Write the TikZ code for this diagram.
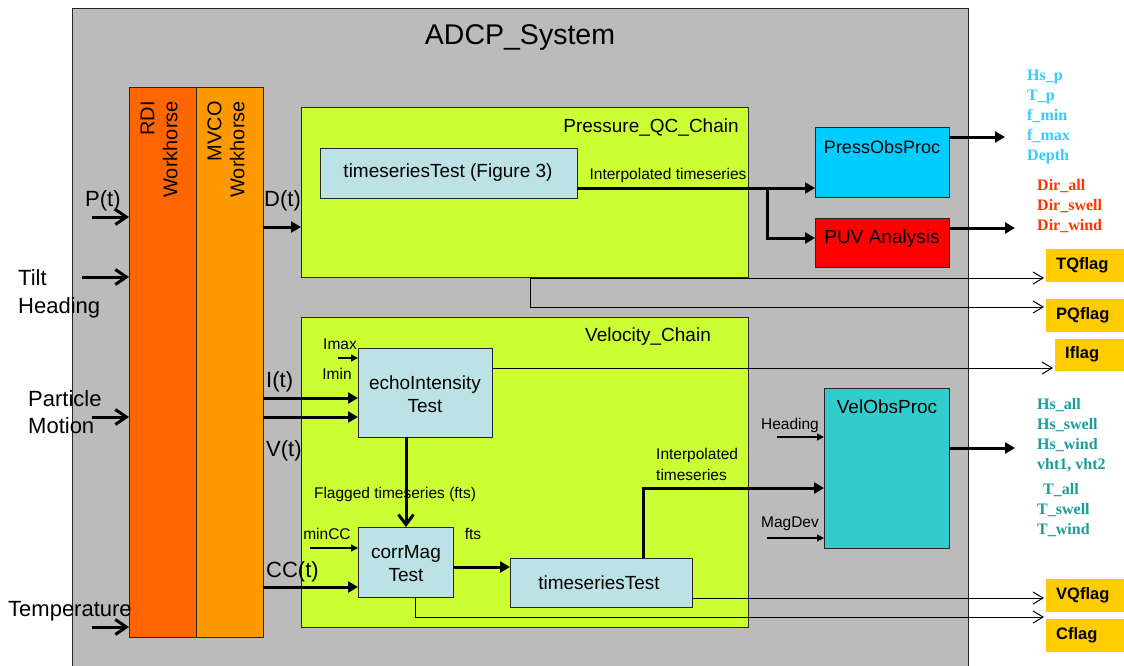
\documentclass[tikz,border=0pt]{standalone}
\usepackage{fontspec}
\setmainfont{Liberation Sans}
\newfontfamily\outserif{Liberation Serif}
\usetikzlibrary{arrows.meta}

\definecolor{sysgrey}{HTML}{BBBBBB}
\definecolor{rdiorange}{HTML}{FF6600}
\definecolor{mvcoorange}{HTML}{FF9900}
\definecolor{chaingreen}{HTML}{CCFF33}
\definecolor{testblue}{HTML}{BDE2E6}
\definecolor{pressblue}{HTML}{00CCFF}
\definecolor{puvred}{HTML}{FF0000}
\definecolor{velteal}{HTML}{33CCCC}
\definecolor{flagyellow}{HTML}{FFCC00}
\definecolor{outblue}{HTML}{33CCFF}
\definecolor{outred}{HTML}{FF3300}
\definecolor{outteal}{HTML}{199C9C}

\begin{document}
\begin{tikzpicture}[x=1pt,y=-1pt,
  box/.style={draw=black!85, line width=0.9pt, inner sep=0pt, outer sep=0pt, rectangle, anchor=north west},
  flagbox/.style={fill=flagyellow, inner sep=0pt, outer sep=2pt, rectangle, anchor=north west},
  titlefont/.style={font=\fontsize{28.5}{33}\selectfont},
  bigfont/.style={font=\fontsize{22}{27}\selectfont},
  boxfont/.style={font=\fontsize{19}{23}\selectfont},
  rotfont/.style={font=\fontsize{20}{23}\selectfont},
  smallfont/.style={font=\fontsize{15.5}{21}\selectfont},
  flagfont/.style={font=\bfseries\fontsize{16.5}{19}\selectfont, anchor=west, inner sep=0pt},
  outfont/.style={font=\outserif\bfseries\fontsize{16}{20}\selectfont, anchor=base west, inner sep=0pt},
  lbl/.style={inner sep=0pt},
  fat/.style={line width=3pt, -{Triangle[length=10pt,width=11pt]}},
  fatbarb/.style={line width=3pt, -{Straight Barb[length=10pt,width=15pt]}},
  inbarb/.style={line width=3pt, -{Straight Barb[length=11pt,width=15pt]}},
  flagline/.style={line width=1pt, -{Straight Barb[length=10pt,width=12pt]}},
  small/.style={line width=1.2pt, -{Triangle[length=7pt,width=7pt]}}
]
\clip (0,0) rectangle (1124,665);
\fill[white] (0,0) rectangle (1124,665);

% system frame and instrument columns
\node[box, fill=sysgrey, minimum width=896, minimum height=700] (sys) at (72,8) {};
\node[titlefont, lbl, anchor=base] (title) at (520,44) {ADCP\_System};
\node[box, fill=rdiorange, minimum width=67, minimum height=550] (rdi) at (129,87) {};
\node[box, fill=mvcoorange, minimum width=67, minimum height=550] (mvco) at (196,87) {};
\node[rotfont, lbl, rotate=90, anchor=east, align=right] (rdilab) at (159,101) {RDI\\Workhorse};
\node[rotfont, lbl, rotate=90, anchor=east, align=right] (mvcolab) at (226,101) {MVCO\\Workhorse};

% processing chains
\node[box, fill=chaingreen, minimum width=447, minimum height=170] (pqc) at (301,107) {};
\node[box, fill=chaingreen, minimum width=447, minimum height=310] (vc) at (301,317) {};
\node[boxfont, lbl] (pqclab) at (651,127) {Pressure\_QC\_Chain};
\node[boxfont, lbl] (vclab) at (648,337) {Velocity\_Chain};

% processing blocks
\node[box, fill=testblue, minimum width=257, minimum height=50] (ts1) at (320,148) {};
\node[boxfont, lbl] (ts1lab) at (448,173) {timeseriesTest (Figure 3)};
\node[box, fill=pressblue, minimum width=134, minimum height=70] (pop) at (815,127) {};
\node[lbl, font=\fontsize{18}{22}\selectfont] (poplab) at (882,147) {PressObsProc};
\node[box, fill=puvred, minimum width=134, minimum height=49] (puv) at (815,218) {};
\node[boxfont, lbl] (puvlab) at (882,239) {PUV Analysis};
\node[box, fill=testblue, minimum width=134, minimum height=89] (echo) at (358,348) {};
\node[boxfont, lbl, align=center] (echolab) at (425,394) {echoIntensity\\Test};
\node[box, fill=testblue, minimum width=95, minimum height=70] (corr) at (358,527) {};
\node[boxfont, lbl, align=center] (corrlab) at (406,564) {corrMag\\Test};
\node[box, fill=testblue, minimum width=182, minimum height=49] (ts2) at (510,558) {};
\node[boxfont, lbl] (ts2lab) at (599,583) {timeseriesTest};
\node[box, fill=velteal, minimum width=125, minimum height=160] (vop) at (824,388) {};
\node[boxfont, lbl] (voplab) at (887,407) {VelObsProc};

% flag outputs
\node[flagbox, minimum width=90, minimum height=33] (tq) at (1044,247) {};
\node[flagbox, minimum width=90, minimum height=33] (pq) at (1044,297) {};
\node[flagbox, minimum width=80, minimum height=32] (ifl) at (1053,337) {};
\node[flagbox, minimum width=90, minimum height=33] (vq) at (1044,577) {};
\node[flagbox, minimum width=90, minimum height=33] (cfl) at (1044,617) {};
\node[flagfont] (tqlab) at (1056,265) {TQflag};
\node[flagfont] (pqlab) at (1056,315) {PQflag};
\node[flagfont] (iflab) at (1065,354) {Iflag};
\node[flagfont] (vqlab) at (1056,595) {VQflag};
\node[flagfont] (cflab) at (1056,635) {Cflag};

% sensor inputs
\node[bigfont, lbl, anchor=base west] (plab) at (85,206) {P(t)};
\node[bigfont, lbl, anchor=base west] (tiltlab) at (18,285) {Tilt};
\node[bigfont, lbl, anchor=base west] (headlab) at (18,313) {Heading};
\node[bigfont, lbl, anchor=base west] (partlab) at (28,406) {Particle};
\node[bigfont, lbl, anchor=base west] (motlab) at (28,433) {Motion};
\node[bigfont, lbl, anchor=base west] (templab) at (8,616) {Temperature};
\coordinate (inP) at (92,217);
\coordinate (inT) at (82,277);
\coordinate (inM) at (92,417);
\coordinate (inTe) at (92,627);
\draw[inbarb] (inP) -- (inP -| rdi.west);
\draw[inbarb] (inT) -- (inT -| rdi.west);
\draw[inbarb] (inM) -- (inM -| rdi.west);
\draw[inbarb] (inTe) -- (inTe -| rdi.west);

% instrument outputs
\node[bigfont, lbl, anchor=base west] (dlab) at (264,206) {D(t)};
\node[bigfont, lbl, anchor=base west] (ilab) at (266,387) {I(t)};
\node[bigfont, lbl, anchor=base west] (vlab) at (266,456) {V(t)};
\node[bigfont, lbl, anchor=base west] (cclab) at (266,577) {CC(t)};
\coordinate (yD) at (0,227);
\coordinate (yIt) at (0,398);
\coordinate (yVt) at (0,417);
\coordinate (yCC) at (0,587);
\draw[fat] (mvco.east |- yD) -- (pqc.west |- yD);
\draw[fat] (mvco.east |- yIt) -- (echo.west |- yIt);
\draw[fat] (mvco.east |- yVt) -- (echo.west |- yVt);
\draw[fat] (mvco.east |- yCC) -- (corr.west |- yCC);

% pressure chain flow
\node[smallfont, lbl] (interp1) at (668,175) {Interpolated timeseries};
\coordinate (yInt) at (0,188);
\coordinate (split) at (767,188);
\coordinate (yPUV) at (0,238);
\draw[fat] (ts1.east |- yInt) -- (pop.west |- yInt);
\draw[fat] (split) |- (puv.west |- yPUV);
\coordinate (popout) at (1005,137);
\coordinate (puvout) at (1015,228);
\draw[fat] (pop.east |- popout) -- (popout);
\draw[fat] (puv.east |- puvout) -- (puvout);

% pressure flags
\coordinate (tap) at (530,278);
\coordinate (yPQ) at (0,307);
\draw[flagline] (tap) -- (tq.west |- tap);
\draw[flagline] (tap) |- (pq.west |- yPQ);

% velocity chain flow
\node[smallfont, lbl] (imaxlab) at (340,344) {Imax};
\node[smallfont, lbl] (iminlab) at (337,374) {Imin};
\coordinate (imx) at (338,358);
\draw[small] (imx) -- (imx -| echo.west);
\coordinate (yIf) at (0,368);
\draw[flagline] (echo.east |- yIf) -- (ifl.west |- yIf);

\coordinate (xE) at (406,0);
\draw[fatbarb] (echo.south -| xE) -- (corr.north -| xE);
\node[smallfont, lbl] (flaglab) at (395,494) {Flagged timeseries (fts)};

\node[smallfont, lbl] (minlab) at (327,534) {minCC};
\coordinate (mcc) at (310,548);
\draw[small] (mcc) -- (mcc -| corr.west);

\node[smallfont, lbl] (ftslab) at (473,534) {fts};
\coordinate (yF) at (0,567);
\draw[fat] (corr.east |- yF) -- (ts2.west |- yF);

\node[smallfont, lbl, align=left, anchor=west] (interp2) at (656,464.5) {Interpolated\\timeseries};
\coordinate (xU) at (643,0);
\coordinate (yU) at (0,488);
\draw[fat] (ts2.north -| xU) |- (vop.west |- yU);

\node[smallfont, lbl] (hdglab) at (790,425) {Heading};
\coordinate (hdg) at (777,437);
\draw[small] (hdg) -- (hdg -| vop.west);
\node[smallfont, lbl] (mdlab) at (790,524) {MagDev};
\coordinate (mdv) at (767,538);
\draw[small] (mdv) -- (mdv -| vop.west);

\coordinate (vopout) at (1015,448);
\draw[fat] (vop.east |- vopout) -- (vopout);

% velocity flags
\coordinate (yVQ) at (0,598);
\draw[flagline] (ts2.east |- yVQ) -- (vq.west |- yVQ);
\coordinate (xC) at (415,0);
\coordinate (yCf) at (0,617);
\draw[flagline] (corr.south -| xC) |- (cfl.west |- yCf);

% derived parameters
\foreach \t [count=\i from 0] in {Hs\_p,T\_p,f\_min,f\_max,Depth}
  \node[outfont, text=outblue] (pout\i) at (1027,80+20*\i) {\t};
\foreach \t [count=\i from 0] in {Dir\_all,Dir\_swell,Dir\_wind}
  \node[outfont, text=outred] (dout\i) at (1037,190+20*\i) {\t};
\foreach \t [count=\i from 0] in {Hs\_all,Hs\_swell,Hs\_wind,{vht1, vht2}}
  \node[outfont, text=outteal] (vout\i) at (1037,409+20*\i) {\t};
\node[outfont, text=outteal] (tall) at (1043,494) {T\_all};
\node[outfont, text=outteal] (tswell) at (1037,514) {T\_swell};
\node[outfont, text=outteal] (twind) at (1037,534) {T\_wind};
\end{tikzpicture}
\end{document}
